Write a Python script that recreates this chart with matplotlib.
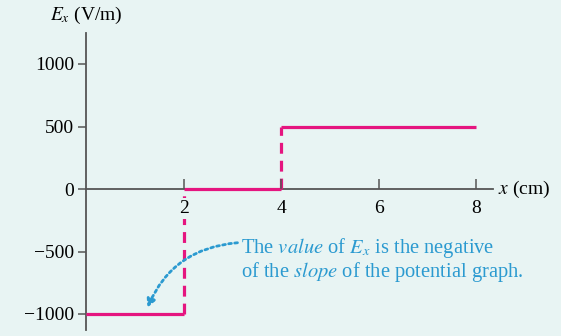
import matplotlib.pyplot as plt

# field values on each interval (x in cm, Ex in V/m)
x_edges = [0, 2, 4, 8]
ex_values = [-1000, 0, 500]
x_ticks = [2, 4, 6, 8]
y_ticks = [-1000, -500, 0, 500, 1000]

pink = '#E5157F'
blue = '#2B9AD0'
axis_gray = '#555555'
bg = '#E8F4F3'

plt.rcParams['font.family'] = ['Liberation Serif', 'DejaVu Serif']
plt.rcParams['mathtext.fontset'] = 'stix'

fig = plt.figure(figsize=(5.61, 3.36), dpi=100)
fig.patch.set_facecolor(bg)
ax = fig.add_axes([0, 0, 1, 1])
ax.set_facecolor(bg)
ax.set_xlim(-1.776, 9.743)
ax.set_ylim(-1176, 1512)

# axes crossing at the origin
for side in ['top', 'right']:
    ax.spines[side].set_visible(False)
ax.spines['left'].set_position(('data', 0))
ax.spines['bottom'].set_position(('data', 0))
ax.spines['left'].set_bounds(-1130, 1250)
ax.spines['bottom'].set_bounds(0, 8.35)
for side in ['left', 'bottom']:
    ax.spines[side].set_color(axis_gray)
    ax.spines[side].set_linewidth(1.3)

ax.set_xticks(x_ticks)
ax.set_yticks(y_ticks)
ax.set_yticklabels([str(v).replace('-', '\u2212') for v in y_ticks])
ax.tick_params(axis='y', direction='out', length=6, width=1.1, color=axis_gray,
               labelsize=14, pad=3)
ax.tick_params(axis='x', direction='in', length=7, width=1.1, color=axis_gray,
               labelsize=14, pad=8)
# x tick labels sit on a background patch so the dashed jump stops at the label
for lbl in ax.get_xticklabels():
    lbl.set_bbox(dict(facecolor=bg, edgecolor='none', pad=1.5))
ax.xaxis.set_zorder(4)

# step segments
for i, v in enumerate(ex_values):
    ax.plot([x_edges[i], x_edges[i + 1]], [v, v], color=pink, lw=2.3,
            solid_capstyle='butt', zorder=3)
# dashed jumps between segments
for i in range(1, len(ex_values)):
    ax.plot([x_edges[i], x_edges[i]], [ex_values[i - 1], ex_values[i]], color=pink,
            lw=2.3, linestyle=(0, (3.4, 2.2)), zorder=3)

ax.text(0, 1390, r'$E_x$ (V/m)', fontsize=14, ha='center', va='center')
ax.text(8.45, 0, r'$x$ (cm)', fontsize=14, ha='left', va='center')

ax.text(3.18, -470, r'The $value$ of $E_x$ is the negative', fontsize=14.8,
        color=blue, ha='left', va='center')
ax.text(3.18, -665, r'of the $slope$ of the potential graph.', fontsize=14.8,
        color=blue, ha='left', va='center')
ax.annotate('', xy=(1.25, -950), xytext=(3.1, -430),
            arrowprops=dict(arrowstyle='-|>', color=blue, lw=2, linestyle=(0, (1, 1.2)),
                            connectionstyle='arc3,rad=0.3', mutation_scale=12,
                            shrinkA=0, shrinkB=0))

fig.savefig('out.png', dpi=100, facecolor=fig.get_facecolor())
